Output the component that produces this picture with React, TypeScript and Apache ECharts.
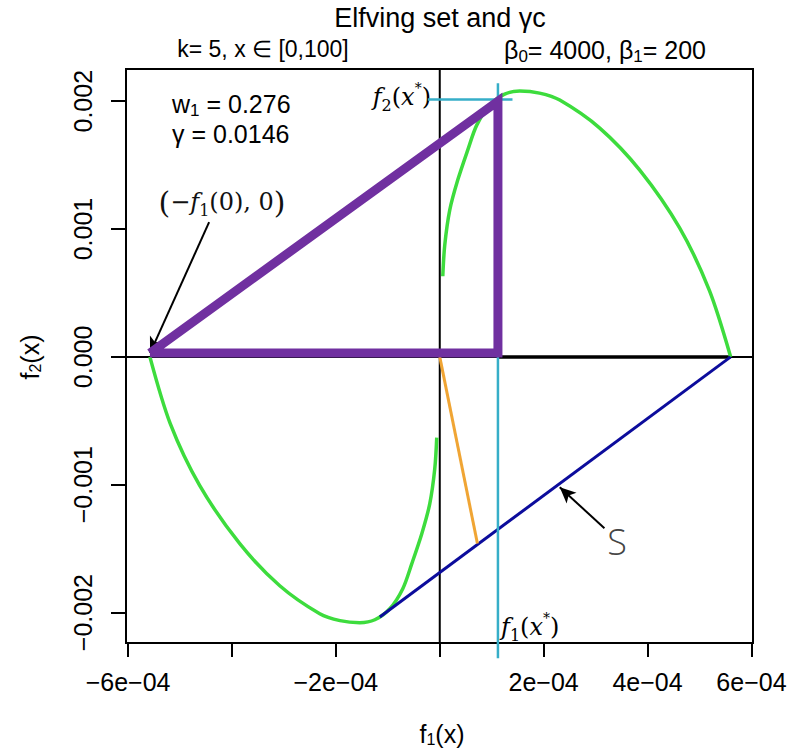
import React, { useEffect, useRef } from 'react';
import * as echarts from 'echarts';

// ---- axis ticks ----
const xTicks = [-6e-4, -4e-4, -2e-4, 0, 2e-4, 4e-4, 6e-4];
const xTickLabels = ['\u22126e\u221204', '', '\u22122e\u221204', '', '2e\u221204', '4e\u221204', '6e\u221204'];
const yTicks = [-0.002, -0.001, 0, 0.001, 0.002];
const yTickLabels = ['\u22120.002', '\u22120.001', '0.000', '0.001', '0.002'];

// ---- Elfving set boundary curves (f1, f2) ----
const upperCurve: [number, number][] = [
  [5.8e-6, 6.31e-4], [9.6e-6, 8.74e-4], [1.92e-5, 1.148e-3], [3.46e-5, 1.383e-3],
  [5.38e-5, 1.617e-3], [7.12e-5, 1.813e-3], [9.62e-5, 1.97e-3], [1.25e-4, 2.056e-3],
  [1.54e-4, 2.079e-3], [1.92e-4, 2.063e-3], [2.31e-4, 2.009e-3], [3.08e-4, 1.79e-3],
  [3.85e-4, 1.461e-3], [4.62e-4, 1.007e-3], [5.19e-4, 5.2e-4], [5.6e-4, 0],
];
const lowerCurve: [number, number][] = [
  [-5.8e-6, -6.31e-4], [-9.6e-6, -8.74e-4], [-1.92e-5, -1.148e-3], [-3.46e-5, -1.383e-3],
  [-5.38e-5, -1.617e-3], [-7.12e-5, -1.813e-3], [-9.62e-5, -1.97e-3], [-1.25e-4, -2.056e-3],
  [-1.54e-4, -2.079e-3], [-1.92e-4, -2.063e-3], [-2.31e-4, -2.009e-3], [-3.08e-4, -1.79e-3],
  [-3.85e-4, -1.461e-3], [-4.62e-4, -1.007e-3], [-5.19e-4, -5.2e-4], [-5.58e-4, 0],
];

// ---- other segments ----
const purpleTriangle: [number, number][] = [
  [-5.58e-4, 3e-5], [1.12e-4, 2.0e-3], [1.12e-4, 3e-5], [-5.58e-4, 3e-5],
];
const blackSegment: [number, number][] = [[1.12e-4, 0], [5.6e-4, 0]];
const orangeSegment: [number, number][] = [[0, 0], [7.25e-5, -1.46e-3]];
const blueSegment: [number, number][] = [[-1.154e-4, -2.034e-3], [5.6e-4, 0]];
const cyanVertical: [number, number][] = [[1.12e-4, 2.14e-3], [1.12e-4, -2.358e-3]];
const cyanHorizontal: [number, number][] = [[-2.3e-5, 2.014e-3], [1.4e-4, 2.014e-3]];

const xRange = [-6.04e-4, 6.03e-4];
const yRange = [-2.238e-3, 2.252e-3];

const arrowF10: [number, number][] = [[-4.44e-4, 1.054e-3], [-5.577e-4, 2.9e-5]];
const arrowS: [number, number][] = [[3.17e-4, -1.34e-3], [2.31e-4, -1.02e-3]];

const SANS = '"Liberation Sans", Arial, sans-serif';
const SERIF = '"DejaVu Serif", "Liberation Serif", serif';

function lookup(v: number, ticks: number[], labels: string[]) {
  for (let i = 0; i < ticks.length; i++) {
    if (Math.abs(v - ticks[i]) < 1e-9) return labels[i];
  }
  return '';
}

function lineSeries(data: [number, number][], color: string, width: number, z: number, extra: any = {}) {
  return {
    type: 'line',
    data,
    symbol: 'none',
    silent: true,
    z,
    lineStyle: { color, width, cap: 'butt', join: 'miter' },
    ...extra,
  };
}

export default function App() {
  const ref = useRef<HTMLDivElement>(null);
  useEffect(() => {
    if (!ref.current) return;
    const chart = echarts.init(ref.current, null, { renderer: 'svg' });
    const subRich = {
      n: { fontSize: 25, fontFamily: SANS, lineHeight: 30 },
      s: { fontSize: 17, fontFamily: SANS, lineHeight: 17, verticalAlign: 'bottom' },
    };
    const mathRich = {
      i: { fontSize: 24, fontFamily: SERIF, fontStyle: 'italic', lineHeight: 32 },
      n: { fontSize: 24, fontFamily: SERIF, lineHeight: 32 },
      s: { fontSize: 16, fontFamily: SERIF, lineHeight: 16, verticalAlign: 'bottom' },
      p: { fontSize: 14, fontFamily: SERIF, lineHeight: 14, verticalAlign: 'top' },
      b: { fontSize: 30, fontFamily: SERIF, lineHeight: 32 },
    };
    const axisTitleRich = {
      n: { fontSize: 25, fontFamily: SANS, lineHeight: 26 },
      s: { fontSize: 16, fontFamily: SANS, lineHeight: 16, verticalAlign: 'bottom' },
    };
    const option: any = {
      animation: false,
      grid: {
        left: 126, right: 39, top: 69, bottom: 107,
        show: true, borderColor: '#000', borderWidth: 2, backgroundColor: 'transparent',
        containLabel: false, outerBoundsMode: 'none',
      },
      xAxis: {
        type: 'value', min: xRange[0], max: xRange[1], position: 'bottom',
        axisLine: { show: false, onZero: false },
        splitLine: { show: false },
        axisTick: { show: true, length: 14, lineStyle: { color: '#000', width: 2 }, customValues: xTicks },
        axisLabel: {
          customValues: xTicks, margin: 26, fontSize: 25, fontFamily: SANS, color: '#000',
          formatter: (v: number) => lookup(v, xTicks, xTickLabels),
        },
      },
      yAxis: {
        type: 'value', min: yRange[0], max: yRange[1], position: 'left',
        axisLine: { show: false, onZero: false },
        splitLine: { show: false },
        axisTick: { show: true, length: 15, lineStyle: { color: '#000', width: 2 }, customValues: yTicks },
        axisLabel: {
          customValues: yTicks, margin: 31, fontSize: 25, fontFamily: SANS, color: '#000', rotate: 90,
          formatter: (v: number) => lookup(v, yTicks, yTickLabels),
        },
      },
      series: [
        lineSeries([[xRange[0], 0], [xRange[1], 0]], '#000', 2, 1),
        lineSeries([[0, yRange[0]], [0, yRange[1]]], '#000', 2, 1),
        lineSeries(blackSegment, '#000', 3.5, 2),
        lineSeries(upperCurve, '#3ddc3d', 3.5, 3, { smooth: 0.3 }),
        lineSeries(lowerCurve, '#3ddc3d', 3.5, 3, { smooth: 0.3 }),
        lineSeries(blueSegment, '#0c0c9c', 3, 4),
        lineSeries(orangeSegment, '#f0a534', 3, 4),
        lineSeries(cyanVertical, '#36aec8', 2.5, 5, { clip: false }),
        lineSeries(cyanHorizontal, '#36aec8', 2.5, 5, { clip: false }),
        lineSeries(purpleTriangle, '#7030a0', 9, 6),
        {
          type: 'line', data: [], silent: true, z: 7,
          markLine: {
            silent: true, animation: false,
            symbol: ['none', 'arrow'], symbolSize: [11, 16],
            label: { show: false },
            lineStyle: { color: '#000', width: 2, type: 'solid' },
            data: [
              [{ coord: arrowF10[0] }, { coord: arrowF10[1] }],
              [{ coord: arrowS[0] }, { coord: arrowS[1] }],
            ],
          },
        },
      ],
      graphic: [
        { type: 'text', x: 440, y: 18, style: { text: 'Elfving set and \u03b3c', fontSize: 27, fontFamily: SANS, fill: '#000', align: 'center', verticalAlign: 'middle' } },
        { type: 'text', x: 263, y: 49, style: { text: 'k= 5, x \u2208 [0,100]', fontSize: 23, fontFamily: SANS, fill: '#000', align: 'center', verticalAlign: 'middle' } },
        { type: 'text', x: 605, y: 50, style: { text: '{n|\u03b2}{s|0}{n|= 4000, \u03b2}{s|1}{n|= 200}', rich: subRich, fill: '#000', align: 'center', verticalAlign: 'middle' } },
        { type: 'text', x: 172, y: 104, style: { text: '{n|w}{s|1}{n| = 0.276}', rich: subRich, fill: '#000', align: 'left', verticalAlign: 'middle' } },
        { type: 'text', x: 172, y: 134, style: { text: '\u03b3 = 0.0146', fontSize: 25, fontFamily: SANS, fill: '#000', align: 'left', verticalAlign: 'middle' } },
        { type: 'text', x: 431, y: 97, style: { text: '{i|f}{s|2}{n|(}{i|x}{p|*}{n|)}', rich: mathRich, fill: '#000', align: 'right', verticalAlign: 'middle' } },
        { type: 'text', x: 222, y: 202, style: { text: '{b|(}{n|\u2212}{i|f}{s|1}{n|(0), 0}{b|)}', rich: mathRich, fill: '#111', align: 'center', verticalAlign: 'middle' } },
        { type: 'text', x: 501, y: 627, style: { text: '{i|f}{s|1}{n|(}{i|x}{p|*}{n|)}', rich: mathRich, fill: '#000', align: 'left', verticalAlign: 'middle' } },
        { type: 'text', x: 617, y: 541, style: { text: 'S', fontSize: 36, fontFamily: '"Open Sans", Lato, sans-serif', fontWeight: 300, fill: '#444', align: 'center', verticalAlign: 'middle' } },
        { type: 'text', x: 442, y: 734, style: { text: '{n|f}{s|1}{n|(x)}', rich: axisTitleRich, fill: '#000', align: 'center', verticalAlign: 'middle' } },
        { type: 'text', x: 30, y: 357, rotation: Math.PI / 2, style: { text: '{n|f}{s|2}{n|(x)}', rich: axisTitleRich, fill: '#000', align: 'center', verticalAlign: 'middle' } },
      ],
    };
    chart.setOption(option);
    return () => chart.dispose();
  }, []);
  return <div ref={ref} style={{ position: 'absolute', left: 0, top: 0, width: 792, height: 750 }} />;
}
